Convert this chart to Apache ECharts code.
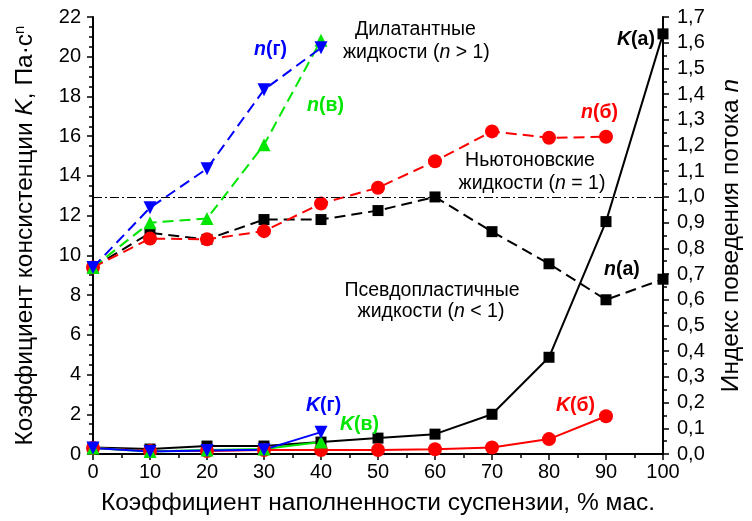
<!DOCTYPE html>
<html><head><meta charset="utf-8">
<script src="https://cdn.jsdelivr.net/npm/echarts@6/dist/echarts.min.js"></script>
<style>html,body{margin:0;padding:0;background:#fff}#c{width:752px;height:521px}</style>
</head><body><div id="c"></div>
<script>
const xFull = [0,10,20,30,40,50,60,70,80,90,100];
const xB = [0,10,20,30,40,50,60,70,80,90];
const xVG = [0,10,20,30,40];
// Consistency coefficient K (left axis)
const K_a = [0.33,0.25,0.4,0.4,0.6,0.8,1.0,2.0,4.87,11.7,21.15];
const K_b = [0.3,0.15,0.15,0.2,0.2,0.2,0.24,0.33,0.75,1.9];
const K_v = [0.3,0.12,0.2,0.25,0.6];
const K_g = [0.3,0.12,0.17,0.22,1.1];
// Flow behaviour index n (right axis)
const n_a = [0.726,0.86,0.835,0.912,0.912,0.947,1.0,0.865,0.74,0.6,0.68];
const n_b = [0.726,0.838,0.835,0.867,0.974,1.036,1.139,1.255,1.23,1.234];
const n_v = [0.726,0.90,0.916,1.203,1.61];
const n_g = [0.726,0.958,1.11,1.417,1.58];
const leftTicks = {min:0,max:22,interval:2};
const rightTicks = {min:0,max:1.7,interval:0.1};

const zip = (xs, ys) => xs.map((x,i)=>[x, ys[i]]);
const FONT = 'Liberation Sans, Arial, sans-serif';
const BLACK='#000', RED='#ff0000', GREEN='#00e600', BLUE='#0000ff';

function kSeries(name, xs, ys, color, symbol, size, rot){
  return {name, type:'line', yAxisIndex:0, data:zip(xs,ys), symbol, symbolSize:size, symbolRotate:rot||0,
    itemStyle:{color}, lineStyle:{color, width:2}, z:3};
}
function nSeries(name, xs, ys, color, symbol, size, rot){
  return {name, type:'line', yAxisIndex:1, data:zip(xs,ys), symbol, symbolSize:size, symbolRotate:rot||0,
    itemStyle:{color}, lineStyle:{color, width:2, type:[11,6]}, z:3};
}
const chart = echarts.init(document.getElementById('c'), null, {renderer:'canvas'});
const axisLine = {show:true, lineStyle:{color:'#000', width:2}};
const lbl = {color:'#000', fontSize:20, fontFamily:FONT};
const series = [
  nSeries('n(а)', xFull, n_a, BLACK, 'rect', 11),
  nSeries('n(б)', xB, n_b, RED, 'circle', 14),
  nSeries('n(в)', xVG, n_v, GREEN, 'triangle', 13),
  nSeries('n(г)', xVG, n_g, BLUE, 'triangle', 13, 180),
  kSeries('K(а)', xFull, K_a, BLACK, 'rect', 11),
  kSeries('K(б)', xB, K_b, RED, 'circle', 14),
  kSeries('K(в)', xVG, K_v, GREEN, 'triangle', 13),
  kSeries('K(г)', xVG, K_g, BLUE, 'triangle', 13, 180)
];
series[0].markLine = {silent:true, symbol:'none', label:{show:false},
  lineStyle:{color:'#000', width:1, type:[9,3,2,3]}, data:[{yAxis:1}]};

const FS = 19.5;
const richDefs = {};
[['n','#000',false,false],['i','#000',false,true],['bk','#000',true,false],['bki','#000',true,true],
 ['br',RED,true,false],['bri',RED,true,true],['bg',GREEN,true,false],['bgi',GREEN,true,true],
 ['bb',BLUE,true,false],['bbi',BLUE,true,true]].forEach(([k,c,b,it])=>{
  richDefs[k] = {fontFamily:FONT, fontSize:FS, fill:c, fontWeight:b?'bold':'normal', fontStyle:it?'italic':'normal'};
});
function t(x,y,parts,align){
  return {type:'text', x, y, style:{rich:richDefs, text:parts, fontFamily:FONT, fontSize:FS, fill:'#000', align:align||'left', verticalAlign:'middle'}, z:10};
}
const graphics = [
  t(355,30,'{n|Дилатантные}'),
  t(343,53,'{n|жидкости (}{i|n}{n| > 1)}'),
  t(254,50,'{bbi|n}{bb|(г)}'),
  t(307,106,'{bgi|n}{bg|(в)}'),
  t(581,113,'{bri|n}{br|(б)}'),
  t(617,40,'{bki|K}{bk|(а)}'),
  t(530,161,'{n|Ньютоновские}','center'),
  t(532,184,'{n|жидкости (}{i|n}{n| = 1)}','center'),
  t(604,270,'{bki|n}{bk|(а)}'),
  t(432,291,'{n|Псевдопластичные}','center'),
  t(431,312,'{n|жидкости (}{i|n}{n| < 1)}','center'),
  t(306,406,'{bbi|K}{bb|(г)}'),
  t(340,425,'{bgi|K}{bg|(в)}'),
  t(556,406,'{bri|K}{br|(б)}')
];
const TF = 24.5;
chart.setOption({
  animation:false,
  backgroundColor:'#fff',
  grid:{left:93, right:84, top:17, bottom:66},
  xAxis:{type:'value', min:0, max:100, interval:10,
    axisLine, splitLine:{show:false},
    axisTick:{show:true, inside:false, length:6, lineStyle:{color:'#000', width:1.5}},
    minorTick:{show:true, splitNumber:2, length:4, lineStyle:{color:'#000', width:1.5}},
    axisLabel:Object.assign({margin:8}, lbl),
    name:'Коэффициент наполненности суспензии, % мас.', nameLocation:'middle', nameGap:37,
    nameTextStyle:{color:'#000', fontSize:TF, fontFamily:FONT}},
  yAxis:[
    {type:'value', position:'left', min:leftTicks.min, max:leftTicks.max, interval:leftTicks.interval,
     axisLine, splitLine:{show:false},
     axisTick:{show:true, inside:false, length:6, lineStyle:{color:'#000', width:1.5}},
     minorTick:{show:true, splitNumber:4, length:4, lineStyle:{color:'#000', width:1.5}},
     axisLabel:Object.assign({margin:12}, lbl),
     name:'{n|Коэффициент консистенции }{i|K}{n|, Па·c}{s|n}', nameLocation:'middle', nameGap:54, nameRotate:90,
     nameTextStyle:{color:'#000', fontSize:TF, fontFamily:FONT, rich:{
       n:{fontSize:TF, fontFamily:FONT, color:'#000'},
       i:{fontSize:TF, fontFamily:FONT, color:'#000', fontStyle:'italic'},
       s:{fontSize:15, fontFamily:FONT, color:'#000', verticalAlign:'top', padding:[0,0,12,0]}}}},
    {type:'value', position:'right', min:rightTicks.min, max:rightTicks.max, interval:rightTicks.interval,
     axisLine, splitLine:{show:false},
     axisTick:{show:true, inside:false, length:6, lineStyle:{color:'#000', width:1.5}},
     minorTick:{show:true, splitNumber:2, length:4, lineStyle:{color:'#000', width:1.5}},
     axisLabel:Object.assign({margin:14, formatter:v=>v.toFixed(1).replace('.',',')}, lbl),
     name:'{n|Индекс поведения потока }{i|n}', nameLocation:'middle', nameGap:56, nameRotate:90,
     nameTextStyle:{color:'#000', fontSize:TF, fontFamily:FONT, rich:{
       n:{fontSize:TF, fontFamily:FONT, color:'#000'},
       i:{fontSize:TF, fontFamily:FONT, color:'#000', fontStyle:'italic'}}}}
  ],
  series,
  graphic:graphics
});
</script></body></html>
